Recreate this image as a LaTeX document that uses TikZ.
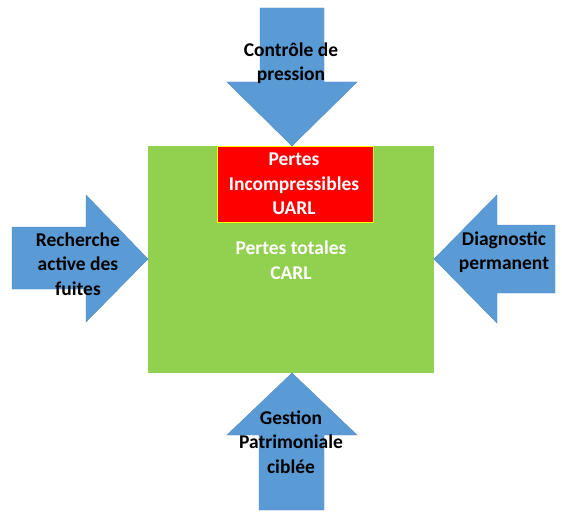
\documentclass[tikz,border=0pt]{standalone}
\usepackage{fontspec}
\setmainfont{Carlito}
\definecolor{arrowblue}{HTML}{5B9BD5}
\definecolor{boxgreen}{HTML}{92D050}
\definecolor{boxred}{HTML}{FF0000}
\definecolor{boxyellow}{HTML}{FFFF00}
\begin{document}
\begin{tikzpicture}[x=1pt,y=-1pt,
  blockarrow/.style={fill=arrowblue,draw=arrowblue!90!black,line width=0.4pt},
  lbl/.style={align=center,font=\bfseries\fontsize{19.5}{24.5}\selectfont,inner sep=0pt},
  whitelbl/.style={lbl,text=white}]
\useasboundingbox (0,0) rectangle (562,513);
% main boxes
\node[fill=boxgreen,minimum width=286pt,minimum height=227pt,inner sep=0pt,anchor=north west] (total) at (148,146) {};
\node[fill=boxred,draw=boxyellow,line width=0.8pt,minimum width=156pt,minimum height=76pt,inner sep=0pt,anchor=north west] (uarl) at (217,146) {};
% top arrow
\draw[blockarrow] (260,8) -- (324,8) -- (324,82) -- (357,82) -- (292,146) -- (227,82) -- (260,82) -- cycle;
% bottom arrow
\draw[blockarrow] (259,510) -- (324,510) -- (324,435) -- (357,435) -- (292,373) -- (227,435) -- (259,435) -- cycle;
% left arrow
\draw[blockarrow] (12,227) -- (86,227) -- (86,195) -- (148,259) -- (86,322) -- (86,289) -- (12,289) -- cycle;
% right arrow
\draw[blockarrow] (555,225) -- (497,225) -- (497,195) -- (434,259) -- (497,323) -- (497,293) -- (555,293) -- cycle;
% labels
\node[whitelbl] (uarltxt) at (294,184) {Pertes\\Incompressibles\\UARL};
\node[whitelbl] (carltxt) at (291,260) {Pertes totales\\CARL};
\node[lbl] (top) at (291,63) {Contrôle de\\pression};
\node[lbl] (bottom) at (291,442) {Gestion\\Patrimoniale\\ciblée};
\node[lbl] (left) at (78,264) {Recherche\\active des\\fuites};
\node[lbl] (right) at (504,252) {Diagnostic\\permanent};
\end{tikzpicture}
\end{document}
